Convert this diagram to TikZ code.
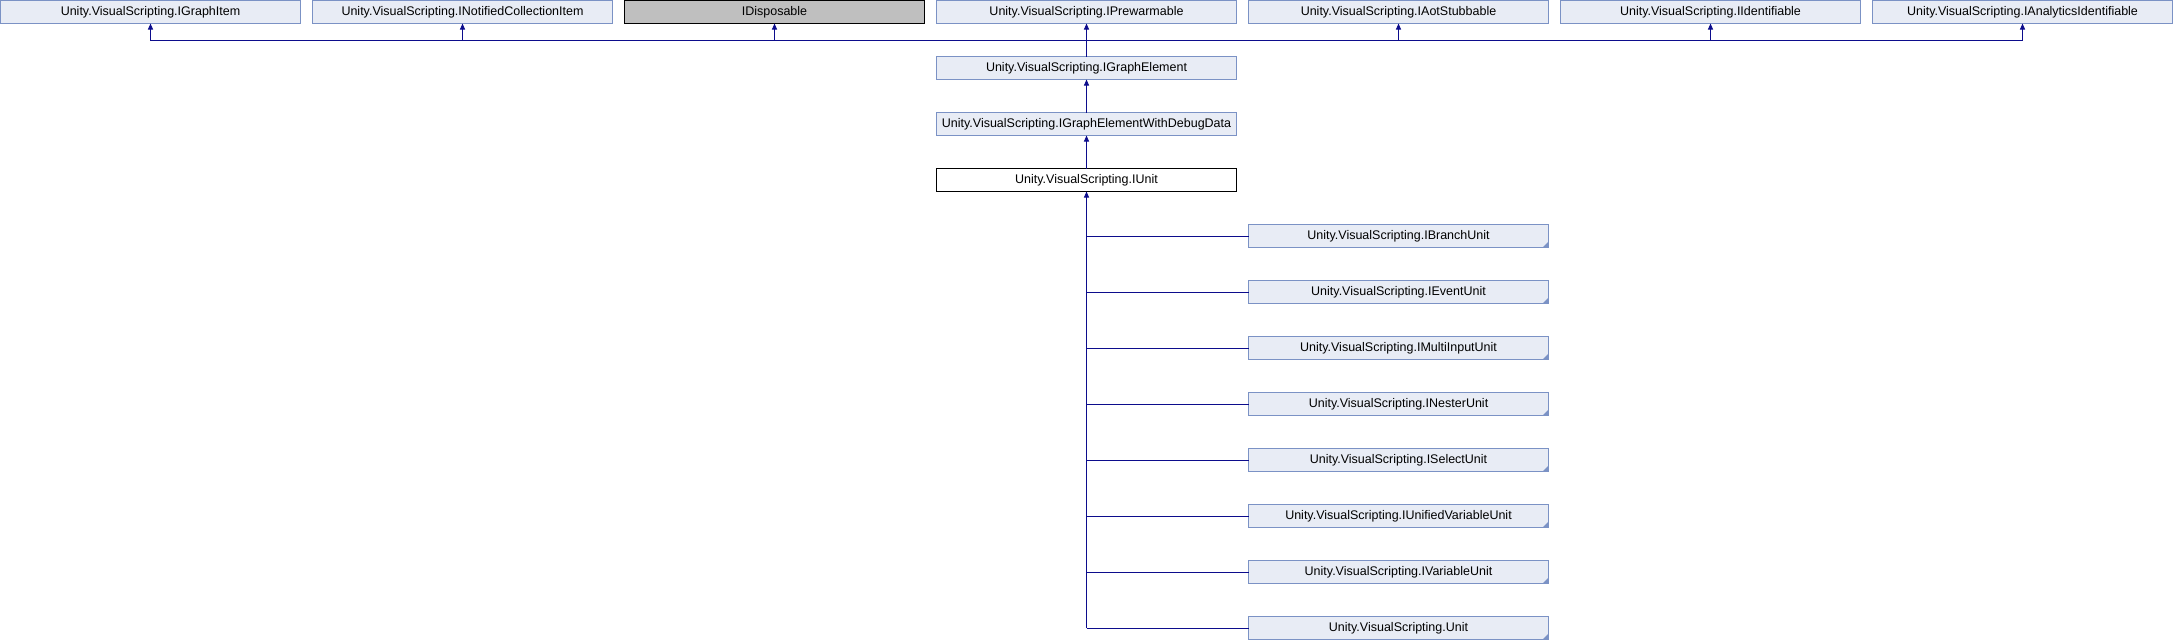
\documentclass[tikz,border=0pt]{standalone}
\usepackage{fontspec}
\setmainfont{Liberation Sans}
\usetikzlibrary{arrows.meta}
\definecolor{nodefill}{HTML}{E8ECF5}
\definecolor{nodeborder}{HTML}{7B92C5}
\definecolor{edgecol}{HTML}{0C0C8C}
\definecolor{extfill}{HTML}{BFBFBF}
\tikzset{
 box/.style={draw=nodeborder, fill=nodefill, line width=1pt, minimum width=300pt, minimum height=23pt, inner sep=0pt, outer sep=0pt, anchor=north west, font=\fontsize{12.5}{14}\selectfont, text=black},
 extbox/.style={box, draw=black, fill=extfill},
 curbox/.style={box, draw=black, fill=white},
 edgeline/.style={draw=edgecol, line width=1pt},
 inh/.style={edgeline, -{Triangle[width=5pt,length=6pt]}},
 fold/.style={fill=nodeborder},
}
\begin{document}
\begin{tikzpicture}[x=1pt,y=-1pt]
\useasboundingbox (0,0) rectangle (2174,640);
% top row
\node[box] (t1) at (0.5,0.5) {Unity.VisualScripting.IGraphItem};
\node[box] (t2) at (312.5,0.5) {Unity.VisualScripting.INotifiedCollectionItem};
\node[extbox] (t3) at (624.5,0.5) {IDisposable};
\node[box] (t4) at (936.5,0.5) {Unity.VisualScripting.IPrewarmable};
\node[box] (t5) at (1248.5,0.5) {Unity.VisualScripting.IAotStubbable};
\node[box] (t6) at (1560.5,0.5) {Unity.VisualScripting.IIdentifiable};
\node[box] (t7) at (1872.5,0.5) {Unity.VisualScripting.IAnalyticsIdentifiable};
% middle chain
\node[box] (ge) at (936.5,56.5) {Unity.VisualScripting.IGraphElement};
\node[box] (gd) at (936.5,112.5) {Unity.VisualScripting.IGraphElementWithDebugData};
\node[curbox] (un) at (936.5,168.5) {Unity.VisualScripting.IUnit};
% children
\node[box] (c1) at (1248.5,224.5) {Unity.VisualScripting.IBranchUnit};
\node[box] (c2) at (1248.5,280.5) {Unity.VisualScripting.IEventUnit};
\node[box] (c3) at (1248.5,336.5) {Unity.VisualScripting.IMultiInputUnit};
\node[box] (c4) at (1248.5,392.5) {Unity.VisualScripting.INesterUnit};
\node[box] (c5) at (1248.5,448.5) {Unity.VisualScripting.ISelectUnit};
\node[box] (c6) at (1248.5,504.5) {Unity.VisualScripting.IUnifiedVariableUnit};
\node[box] (c7) at (1248.5,560.5) {Unity.VisualScripting.IVariableUnit};
\node[box] (c8) at (1248.5,616.5) {Unity.VisualScripting.Unit};
\foreach \c in {c1,c2,c3,c4,c5,c6,c7,c8}{
  \fill[fold] (\c.south east) -- ++(-6,0) -- ++(6,-6) -- cycle;
}
% bus to top row
\path (t1.south) ++(0,17) coordinate (bl);
\draw[edgeline] (t1.south |- bl) -- (t7.south |- bl);
\draw[edgeline] (ge.north) -- (ge.north |- bl);
\foreach \t in {t1,t2,t3,t4,t5,t6,t7}{
  \draw[inh] (\t.south |- bl) -- (\t.south);
}
% chain
\draw[inh] (gd.north) -- (ge.south);
\draw[inh] (un.north) -- (gd.south);
% children
\draw[inh] (un.south |- c8.west) -- (un.south);
\foreach \c in {c1,c2,c3,c4,c5,c6,c7,c8}{
  \draw[edgeline] (un.south |- \c.west) -- (\c.west);
}
\end{tikzpicture}
\end{document}
